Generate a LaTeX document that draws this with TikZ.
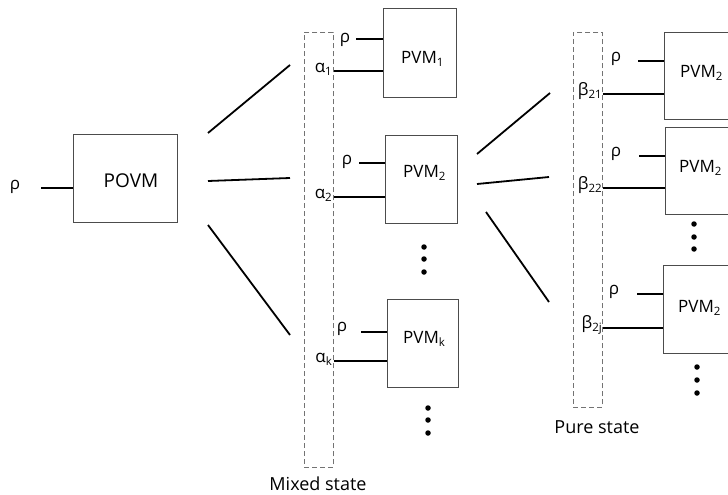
\documentclass[tikz,border=0pt]{standalone}
\usepackage{fontspec}
\setmainfont{Open Sans}
\newcommand\subtx[1]{\raisebox{-0.35ex}{\fontsize{11.5}{12}\selectfont #1}}
\tikzset{
  box/.style={draw=black!70, line width=1.1pt, fill=white, inner sep=0pt, anchor=north west},
  conn/.style={line width=1.8pt, black},
  dashbox/.style={draw=black!55, line width=0.9pt, dash pattern=on 5pt off 3pt, inner sep=0pt, anchor=north west},
  lbl/.style={inner sep=0pt, font=\fontsize{17}{20}\selectfont},
  biglbl/.style={inner sep=0pt, font=\fontsize{18}{22}\selectfont},
  dotm/.style={circle, fill=black, inner sep=0pt, minimum size=5.5pt}
}
\begin{document}
\begin{tikzpicture}[x=1pt,y=-1pt]
\useasboundingbox (0,0) rectangle (728,495);
\clip (0,0) rectangle (728,495);

% POVM
\node[box, minimum width=104pt, minimum height=88pt] (povm) at (73,134) {};
\node[inner sep=0pt, font=\fontsize{19}{22}\selectfont] (povmt) at (131,181) {POVM};
\node[lbl] (rho0) at (15,187) {ρ};
\coordinate (rho0e) at (41,188);
\draw[conn] (rho0e) -- (povm.west |- rho0e);

% fan from POVM
\coordinate (f1a) at (208,133); \coordinate (f1b) at (290,65);
\coordinate (f2a) at (208,181); \coordinate (f2b) at (290,178);
\coordinate (f3a) at (208,225); \coordinate (f3b) at (290,335);
\draw[conn] (f1a) -- (f1b);
\draw[conn] (f2a) -- (f2b);
\draw[conn] (f3a) -- (f3b);

% mixed state
\node[dashbox, minimum width=29pt, minimum height=435pt] (mix) at (304,32) {};
\node[biglbl] (mixt) at (318,484) {Mixed state};

% PVM1
\node[box, minimum width=73pt, minimum height=89pt] (pvm1) at (383,8) {};
\node[lbl, anchor=west] (pvm1t) at (401,59) {PVM\subtx{1}};
\node[lbl] (r1) at (345,40) {ρ};
\coordinate (r1e) at (356,39);
\draw[conn] (r1e) -- (pvm1.west |- r1e);
\node[lbl, anchor=east] (a1) at (332,69) {α\subtx{1}};
\coordinate (a1y) at (333,71);
\draw[conn] (mix.east |- a1y) -- (pvm1.west |- a1y);

% PVM2
\node[box, minimum width=72pt, minimum height=88pt] (pvm2) at (385,135) {};
\node[lbl, anchor=west] (pvm2t) at (403,173) {PVM\subtx{2}};
\node[lbl] (r2) at (347,162) {ρ};
\coordinate (r2e) at (359,163);
\draw[conn] (r2e) -- (pvm2.west |- r2e);
\node[lbl, anchor=east] (a2) at (332,195) {α\subtx{2}};
\coordinate (a2y) at (333,197);
\draw[conn] (mix.east |- a2y) -- (pvm2.west |- a2y);

\node[dotm] (d1) at (424,247) {};
\node[dotm] (d2) at (424,259) {};
\node[dotm] (d3) at (424,272) {};

% PVMk
\node[box, minimum width=71pt, minimum height=88pt] (pvmk) at (387,299) {};
\node[lbl, anchor=west] (pvmkt) at (403,339) {PVM\subtx{k}};
\node[lbl] (rk) at (342,329) {ρ};
\coordinate (rke) at (361,332);
\draw[conn] (rke) -- (pvmk.west |- rke);
\node[lbl, anchor=east] (ak) at (332,359) {α\subtx{k}};
\coordinate (aky) at (333,361);
\draw[conn] (mix.east |- aky) -- (pvmk.west |- aky);

\node[dotm] (d4) at (428,408) {};
\node[dotm] (d5) at (428,420) {};
\node[dotm] (d6) at (428,433) {};

% fan to pure
\coordinate (g1a) at (477,154); \coordinate (g1b) at (550,93);
\coordinate (g2a) at (477,184); \coordinate (g2b) at (549,177);
\coordinate (g3a) at (486,212); \coordinate (g3b) at (549,302);
\draw[conn] (g1a) -- (g1b);
\draw[conn] (g2a) -- (g2b);
\draw[conn] (g3a) -- (g3b);

% pure state
\node[dashbox, minimum width=29pt, minimum height=375pt] (pure) at (573,32) {};
\node[biglbl] (puret) at (597,427) {Pure state};

% right PVM2 #1
\node[box, minimum width=80pt, minimum height=87pt] (q1) at (664,32) {};
\node[lbl, anchor=west] (q1t) at (680,73) {PVM\subtx{2}};
\node[lbl] (s1) at (616,59) {ρ};
\coordinate (s1e) at (638,61);
\draw[conn] (s1e) -- (q1.west |- s1e);
\node[lbl, anchor=east] (b1) at (602,91) {β\subtx{21}};
\coordinate (b1y) at (602,94);
\draw[conn] (pure.east |- b1y) -- (q1.west |- b1y);

% right PVM2 #2
\node[box, minimum width=80pt, minimum height=87pt] (q2) at (665,127) {};
\node[lbl, anchor=west] (q2t) at (679,168) {PVM\subtx{2}};
\node[lbl] (s2) at (616,154) {ρ};
\coordinate (s2e) at (639,156);
\draw[conn] (s2e) -- (q2.west |- s2e);
\node[lbl, anchor=east] (b2) at (602,185) {β\subtx{22}};
\coordinate (b2y) at (602,188);
\draw[conn] (pure.east |- b2y) -- (q2.west |- b2y);

\node[dotm] (e1) at (694,224) {};
\node[dotm] (e2) at (694,237) {};
\node[dotm] (e3) at (694,249) {};

% right PVM2 #3
\node[box, minimum width=80pt, minimum height=88pt] (q3) at (663,265) {};
\node[lbl, anchor=west] (q3t) at (678,308) {PVM\subtx{2}};
\node[lbl] (s3) at (614,292) {ρ};
\coordinate (s3e) at (637,294);
\draw[conn] (s3e) -- (q3.west |- s3e);
\node[lbl, anchor=east] (b3) at (602,325) {β\subtx{2j}};
\coordinate (b3y) at (602,328);
\draw[conn] (pure.east |- b3y) -- (q3.west |- b3y);

\node[dotm] (e4) at (697,367) {};
\node[dotm] (e5) at (697,380) {};
\node[dotm] (e6) at (697,393) {};
\end{tikzpicture}
\end{document}
